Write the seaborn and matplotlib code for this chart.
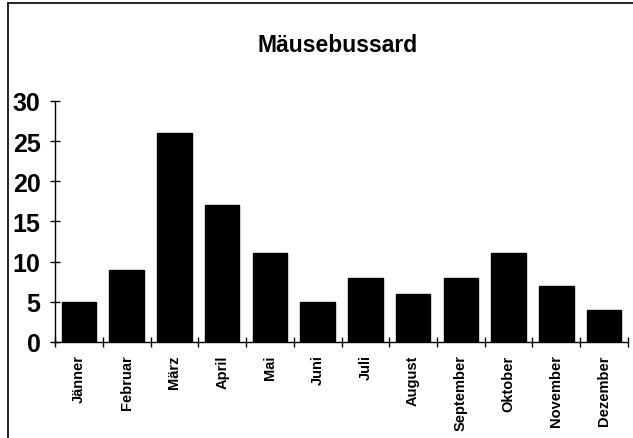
import matplotlib
matplotlib.use('Agg')
import matplotlib.pyplot as plt
import seaborn as sns
import numpy as np
from matplotlib.lines import Line2D

months = ['Jänner', 'Februar', 'März', 'April', 'Mai', 'Juni', 'Juli',
          'August', 'September', 'Oktober', 'November', 'Dezember']
counts = [5, 9, 26, 17, 11, 5, 8, 6, 8, 11, 7, 4]

sns.set_theme(style="white")
plt.rcParams['font.family'] = ['Liberation Sans', 'DejaVu Sans']

fig = plt.figure(figsize=(6.33, 4.39), dpi=100)
ax = fig.add_axes([0.087, 0.219, 0.905, 0.549])

sns.barplot(x=months, y=counts, color='black', width=0.72, saturation=1,
            edgecolor='black', ax=ax)

ax.set_xlim(-0.5, 11.5)
ax.set_ylim(0, 30)
ax.set_yticks(range(0, 31, 5))
ax.tick_params(axis='y', left=True, labelsize=18, direction='inout', length=7,
               width=1, colors='black', pad=7)
for lab in ax.get_yticklabels():
    lab.set_fontweight('bold')

ax.set_xticks(range(12))
ax.set_xticklabels(months, rotation=90, fontsize=10.5, fontweight='bold',
                   color='black')
ax.tick_params(axis='x', which='major', length=0, pad=9)
ax.set_xticks(np.arange(-0.5, 12, 1), minor=True)
ax.tick_params(axis='x', which='minor', direction='inout', length=7, width=1,
               color='black', bottom=True)

sns.despine(ax=ax)
ax.spines['left'].set_color('black')
ax.spines['bottom'].set_color('black')
ax.spines['left'].set_linewidth(1)
ax.spines['bottom'].set_linewidth(1)

fig.text(0.533, 0.897, 'Mäusebussard', ha='center', va='center', fontsize=16.5,
         fontweight='bold', color='black')

# border of the chart area
fig.add_artist(Line2D([0.013, 0.013], [0, 0.99], color='black', lw=1.2,
                      transform=fig.transFigure))
fig.add_artist(Line2D([0.013, 1.0], [0.99, 0.99], color='black', lw=1.2,
                      transform=fig.transFigure))

fig.savefig('out.png', dpi=100)
